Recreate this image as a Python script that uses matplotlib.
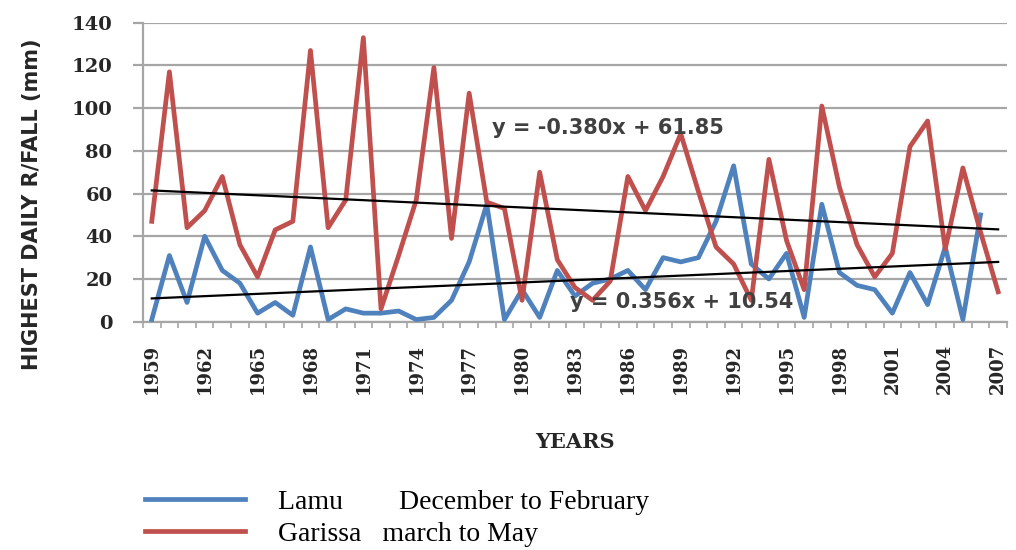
import numpy as np
import matplotlib
matplotlib.use('Agg')
import matplotlib.pyplot as plt

# values
years = list(range(1959, 2008))
lamu = [1, 31, 9, 40, 24, 18, 4, 9, 3, 35,
        1, 6, 4, 4, 5, 1, 2, 10, 28, 55,
        1, 15, 2, 24, 12, 18, 20, 24, 15, 30,
        28, 30, 47, 73, 27, 20, 32, 2, 55, 23,
        17, 15, 4, 23, 8, 35, 1, 50, np.nan]
garissa = [47, 117, 44, 52, 68, 36, 21, 43, 47, 127,
           44, 57, 133, 6, 31, 57, 119, 39, 107, 56,
           53, 10, 70, 29, 16, 10, 19, 68, 52, 68,
           88, 61, 35, 27, 10, 76, 38, 15, 101, 63,
           36, 21, 32, 82, 94, 34, 72, 42, 14]
# printed trend line equations (x = 1..49)
trend_slope = [0.356, -0.380]
trend_intercept = [10.54, 61.85]
trend_text = ['y = 0.356x + 10.54', 'y = -0.380x + 61.85']
legend_labels = ['Lamu        December to February', 'Garissa   march to May']

grey = '#a6a6a6'
blue = '#4F81BD'
red = '#C0504D'

fig = plt.figure(figsize=(10.16, 5.5), dpi=100)
ax = fig.add_axes([0.1407, 0.4151, 0.8504, 0.5436])

l1, = ax.plot(years, lamu, color=blue, lw=3.4, zorder=3)
l2, = ax.plot(years, garissa, color=red, lw=3.4, zorder=3)

idx = np.arange(1, len(years) + 1)
for s, b in zip(trend_slope, trend_intercept):
    ax.plot(years, s * idx + b, color='black', lw=1.6, zorder=4)

ax.text(1978.3, 90.5, trend_text[1], fontsize=15, fontweight='bold',
        color='#404040', va='center', ha='left', zorder=5)
ax.text(1982.7, 9, trend_text[0], fontsize=15, fontweight='bold',
        color='#404040', va='center', ha='left', zorder=5)

ax.set_xlim(1958.5, 2007.5)
ax.set_ylim(0, 140)
ax.set_yticks(range(0, 141, 20))
ax.grid(axis='y', color=grey, lw=1.6)
ax.set_axisbelow(True)
for side in ['top', 'right']:
    ax.spines[side].set_visible(False)
for side in ['left', 'bottom']:
    ax.spines[side].set_color(grey)
    ax.spines[side].set_linewidth(1.6)

ax.set_xticks(years[::3])
ax.set_xticklabels([str(y) for y in years[::3]], rotation=90,
                   fontfamily='DejaVu Serif', fontweight='bold', fontsize=13, color='#262626')
ax.set_xticks(np.arange(1958.5, 2008, 1), minor=True)
ax.tick_params(axis='x', which='major', length=0, pad=16)
ax.tick_params(axis='x', which='minor', length=4, width=1.2, color=grey)
ax.tick_params(axis='y', length=7, width=1.6, color=grey, pad=15)
for t in ax.get_yticklabels():
    t.set_fontfamily('DejaVu Serif')
    t.set_fontweight('bold')
    t.set_fontsize(14)
    t.set_color('#262626')

ax.set_ylabel('HIGHEST DAILY R/FALL (mm)', fontsize=15, fontweight='bold', color='#262626')
ax.yaxis.set_label_coords(-0.117, 0.392)
ax.set_xlabel('YEARS', fontfamily='DejaVu Serif', fontsize=15, fontweight='bold', color='#262626')
ax.xaxis.set_label_coords(0.5, -0.369)

fig.legend([l1, l2], legend_labels, loc='center left', bbox_to_anchor=(0.1427, 0.058),
           frameon=False, borderpad=0, borderaxespad=0, handlelength=3.6, handletextpad=1.2,
           labelspacing=0.25, prop={'family': 'Liberation Serif', 'size': 20})

fig.savefig('out.png', dpi=100)
